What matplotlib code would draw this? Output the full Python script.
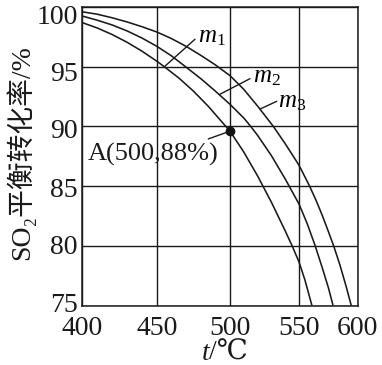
import numpy as np
import matplotlib
matplotlib.use("Agg")
import matplotlib.pyplot as plt
import matplotlib.transforms as mtransforms

plt.rcParams['font.family'] = ['Liberation Serif', 'Noto Sans CJK SC', 'DejaVu Sans']
plt.rcParams['mathtext.fontset'] = 'custom'
plt.rcParams['mathtext.rm'] = 'Liberation Serif'
plt.rcParams['mathtext.it'] = 'Liberation Serif:italic'

# ---- data ----
x_ticks = [400, 450, 500, 550, 600]
y_ticks = [75, 80, 85, 90, 95, 100]

m1_t = [400, 410, 420, 430, 440, 450, 455, 465, 475, 485, 495, 500, 510, 520, 530, 540, 545, 550, 555, 561]
m1_v = [98.7, 98.25, 97.7, 97.05, 96.3, 95.45, 95.0, 94.05, 92.95, 91.7, 90.3, 89.6,
        87.85, 85.85, 83.65, 81.25, 80.0, 78.65, 77.15, 75.0]

m2_t = [400, 410, 420, 430, 440, 450, 460, 469, 480, 490, 500, 510, 515, 520, 530, 540, 550, 557, 563.6, 570, 575, 579]
m2_v = [99.25, 98.9, 98.5, 98.0, 97.4, 96.7, 95.9, 95.05, 94.0, 92.95, 91.85, 90.7, 90.0,
        89.25, 87.55, 85.6, 83.5, 81.85, 80.05, 78.1, 76.5, 75.0]

m3_t = [400, 410, 420, 430, 440, 450, 460, 470, 480, 490, 500, 510, 520, 531.4, 540, 550, 559, 565, 570, 575, 579.5, 585, 590, 594.5]
m3_v = [99.6, 99.4, 99.1, 98.75, 98.35, 97.9, 97.35, 96.7, 95.95, 95.15, 94.25, 93.1, 91.7,
        90.0, 88.55, 86.75, 85.0, 83.7, 82.5, 81.2, 80.0, 78.35, 76.65, 75.0]

point_A_t = [500]
point_A_v = [89.6]
point_A_label = "A(500,88%)"

# ---- figure ----
fig = plt.figure(figsize=(3.82, 3.65), dpi=100)
ax = fig.add_axes([0.2147, 0.163, 0.7217, 0.8178])

# the printed grid is slightly uneven; reproduce with a piecewise-linear scale
_xk = [400, 450, 500, 550, 600]
_xp = [0, 75, 148, 217, 275.7]
def _fwd(x):
    return np.interp(x, _xk, _xp)
def _inv(p):
    return np.interp(p, _xp, _xk)
ax.set_xscale('function', functions=(_fwd, _inv))

ax.set_xlim(400, 600)
ax.set_ylim(75, 100)
ax.set_xticks(x_ticks)
ax.set_yticks(y_ticks)
ax.set_xticklabels([str(v) for v in x_ticks])
ax.set_yticklabels([str(v) for v in y_ticks])
ax.tick_params(length=0, labelsize=20, colors='#1a1a1a')
ax.tick_params(axis='x', pad=7.5)
ax.tick_params(axis='y', pad=3)
ax.grid(True, color='#1a1a1a', lw=1.0)
for s in ax.spines.values():
    s.set_color('#1a1a1a')
    s.set_linewidth(1.1)

# small vertical nudges of the y tick labels as printed (pixels, downward positive)
_nudge = [-3, -1, 1, 2, 5, 7]
for lab, dy in zip(ax.get_yticklabels(), _nudge):
    lab.set_transform(lab.get_transform() +
                      mtransforms.ScaledTranslation(0, -dy / 100.0, fig.dpi_scale_trans))

lw = 1.15
for t, v in [(m1_t, m1_v), (m2_t, m2_v), (m3_t, m3_v)]:
    ax.plot(t, v, color='#1a1a1a', lw=lw, solid_joinstyle='round', solid_capstyle='butt', zorder=3)

ax.plot(point_A_t, point_A_v, 'o', color='#111111', ms=6, zorder=4)

lk = dict(arrowstyle='-', color='#1a1a1a', lw=1.0, shrinkA=0, shrinkB=0)
# curve labels with leader lines
ax.annotate('', xy=(455.5, 95.05), xytext=(476, 97.3), arrowprops=lk)
ax.text(478, 97.0, r'$m_1$', fontsize=18, ha='left', va='baseline')
ax.annotate('', xy=(493.2, 92.7), xytext=(514.5, 94.0), arrowprops=lk)
ax.text(516.7, 93.7, r'$m_2$', fontsize=18, ha='left', va='baseline')
ax.annotate('', xy=(521.7, 91.45), xytext=(533.8, 92.1), arrowprops=lk)
ax.text(534.8, 91.55, r'$m_3$', fontsize=18, ha='left', va='baseline')

ax.annotate('', xy=(point_A_t[0], point_A_v[0]), xytext=(485.1, 88.95), arrowprops=lk)
ax.text(404, 87.15, point_A_label, fontsize=19, ha='left', va='baseline', color='#1a1a1a')

# axis titles
fig.text(0.052, 0.583, 'SO₂平衡转化率/%', rotation=90, fontsize=20,
         ha='center', va='center', color='#1a1a1a')
fig.text(0.548, 0.015, 't', fontsize=20, style='italic', ha='right', va='baseline', color='#1a1a1a')
fig.text(0.548, 0.015, '/℃', fontsize=20, ha='left', va='baseline', color='#1a1a1a',
         family=['Liberation Serif', 'DejaVu Serif', 'DejaVu Sans'])

fig.savefig('out.png', dpi=100, facecolor='white')
